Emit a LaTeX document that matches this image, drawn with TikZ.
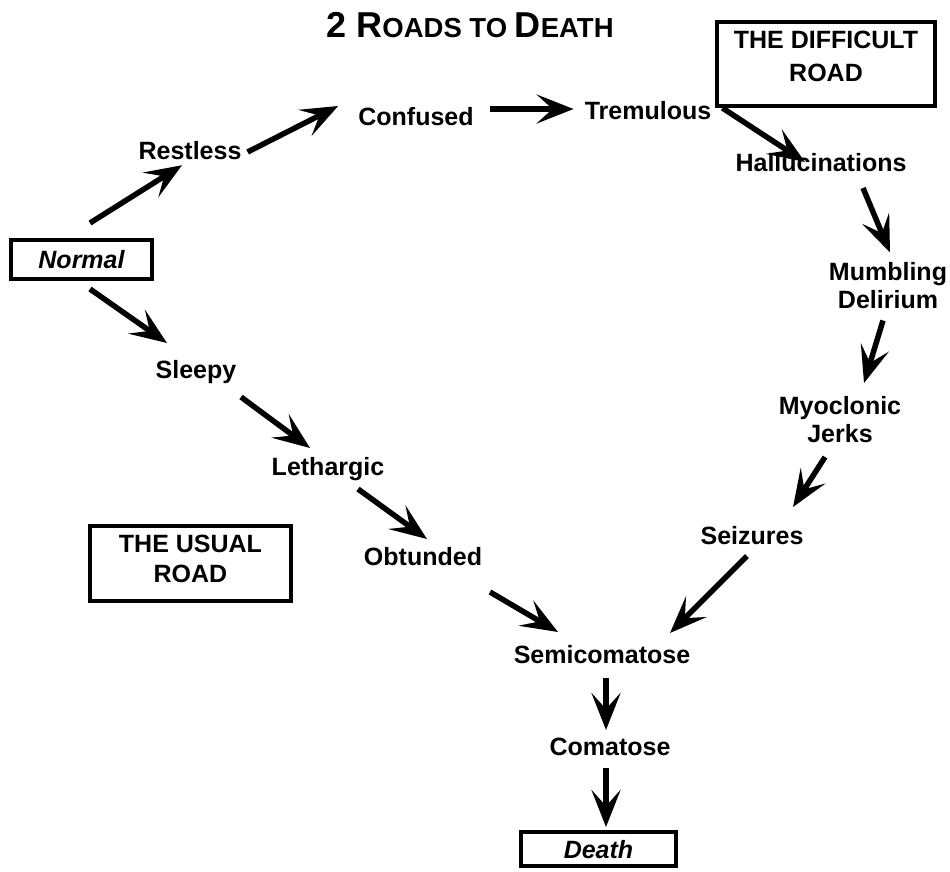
\documentclass[tikz,border=0pt]{standalone}
\usepackage{fontspec}
\setmainfont{Liberation Sans}
\usetikzlibrary{arrows.meta}

\tikzset{
  lbl/.style={font=\bfseries\fontsize{25}{28}\selectfont, inner sep=0pt, text height=18pt, text depth=0pt},
  lbltwo/.style={font=\bfseries\fontsize{25}{28}\selectfont, inner sep=0pt, align=center},
  roadbox/.style={draw, line width=4pt, font=\bfseries\fontsize{25}{30}\selectfont, align=center, inner sep=0pt},
  endbox/.style={draw, line width=4pt, font=\bfseries\itshape\fontsize{25}{28}\selectfont, inner sep=0pt},
  arr/.style={line width=5.5pt, -{Stealth[length=37pt,width=29pt,inset=16pt]}}
}

\begin{document}
\begin{tikzpicture}[x=1pt,y=-1pt]
  \useasboundingbox (0,0) rectangle (950,871);

  % Title and road boxes
  \node (title) at (470,25) {\bfseries\fontsize{36}{36}\selectfont 2 R\fontsize{27.5}{27.5}\selectfont OADS TO \fontsize{36}{36}\selectfont D\fontsize{27.5}{27.5}\selectfont EATH};
  \node[roadbox, font=\bfseries\fontsize{25}{33}\selectfont, text depth=15pt, minimum width=218pt, minimum height=84pt] (difficult) at (826,64) {THE DIFFICULT\\ROAD};
  \node[roadbox, text depth=9pt, minimum width=201pt, minimum height=75pt] (usual) at (190.5,563.5) {THE USUAL\\ROAD};
  \node[endbox, minimum width=141pt, minimum height=39pt] (normal) at (81.5,259.5) {Normal};
  \node[endbox, text depth=-4pt, minimum width=155pt, minimum height=34pt] (death) at (598.5,849) {Death};

  % The difficult road
  \node[lbl] (restless) at (190,150) {Restless};
  \node[lbl] (confused) at (416,116) {Confused};
  \node[lbl] (tremulous) at (648,110) {Tremulous};
  \node[lbl] (halluc) at (821,162) {Hallucinations};
  \node[lbltwo] (mumbling) at (888,285.5) {Mumbling\\Delirium};
  \node[lbltwo] (myoclonic) at (840,420) {Myoclonic\\Jerks};
  \node[lbl] (seizures) at (752,535) {Seizures};

  % The usual road
  \node[lbl] (sleepy) at (196,369) {Sleepy};
  \node[lbl] (lethargic) at (328,466) {Lethargic};
  \node[lbl] (obtunded) at (423,556) {Obtunded};
  \node[lbl] (semicomatose) at (602,654) {Semicomatose};
  \node[lbl] (comatose) at (610,746) {Comatose};

  % Arrows
  \draw[arr] ([shift={(8.5,-15)}]normal.north) -- ([shift={(-8,6)}]restless.south);
  \draw[arr] ([shift={(6,2)}]restless.east) -- ([shift={(-20,-10)}]confused.west);
  \draw[arr] ([shift={(16,-7)}]confused.east) -- ([shift={(-11,-1)}]tremulous.west);
  \draw[arr] ([shift={(11,-2)}]tremulous.east) -- ([shift={(-16,0)}]halluc.center);
  \draw[arr] ([shift={(42,26)}]halluc.center) -- ([shift={(2,-33)}]mumbling.center);
  \draw[arr] ([shift={(-5,35)}]mumbling.center) -- ([shift={(24,-37)}]myoclonic.center);
  \draw[arr] ([shift={(-15,37)}]myoclonic.center) -- ([shift={(41,-28)}]seizures.center);
  \draw[arr] ([shift={(-5,21)}]seizures.center) -- ([shift={(68,-21)}]semicomatose.center);

  \draw[arr] ([shift={(8.5,8)}]normal.south) -- ([shift={(-29,-26)}]sleepy.center);
  \draw[arr] ([shift={(45,28)}]sleepy.center) -- ([shift={(-18,-18)}]lethargic.center);
  \draw[arr] ([shift={(30,23)}]lethargic.center) -- ([shift={(4,-17)}]obtunded.center);
  \draw[arr] ([shift={(67,36)}]obtunded.center) -- ([shift={(-44,-22)}]semicomatose.center);
  \draw[arr] ([shift={(4,24)}]semicomatose.center) -- ([shift={(-4,-16)}]comatose.center);
  \draw[arr] ([shift={(-4,22)}]comatose.center) -- ([shift={(7.5,-22)}]death.center);
\end{tikzpicture}
\end{document}
